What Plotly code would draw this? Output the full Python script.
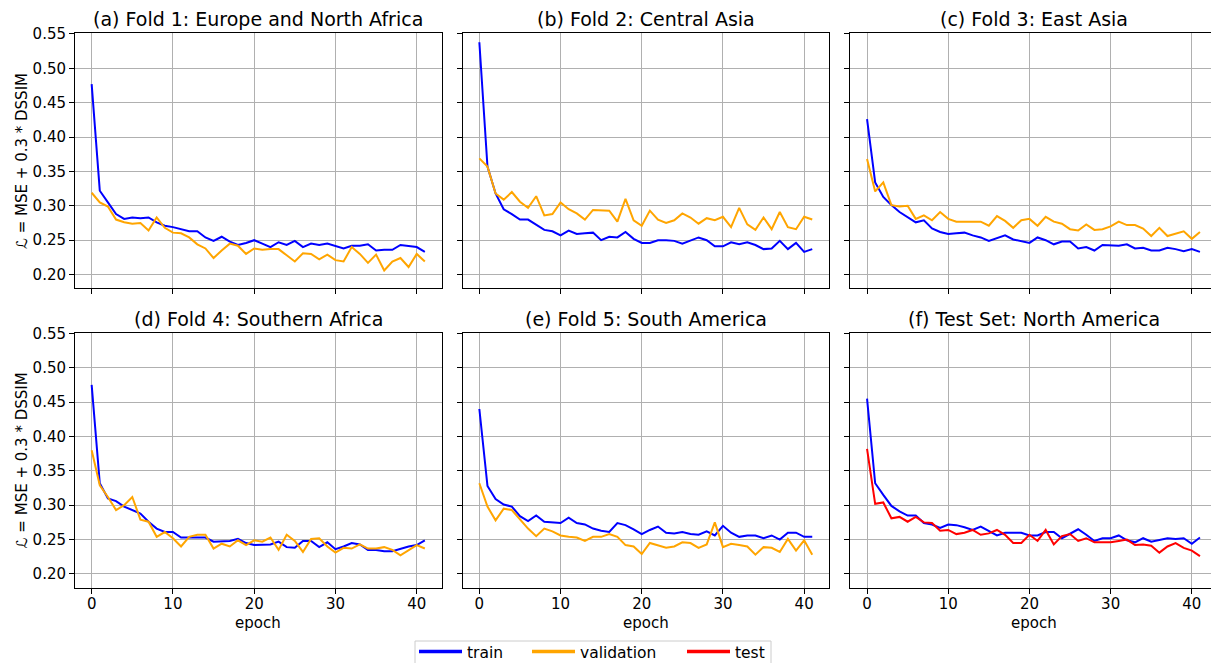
import plotly.graph_objects as go

epochs = list(range(42))

titles = [
    "(a) Fold 1: Europe and North Africa",
    "(b) Fold 2: Central Asia",
    "(c) Fold 3: East Asia",
    "(d) Fold 4: Southern Africa",
    "(e) Fold 5: South America",
    "(f) Test Set: North America",
]

train_a = [0.477, 0.322, 0.305, 0.288, 0.281, 0.283, 0.282, 0.283, 0.276, 0.271, 0.269, 0.266, 0.263, 0.263,
           0.254, 0.249, 0.255, 0.248, 0.243, 0.246, 0.250, 0.245, 0.240, 0.247, 0.243, 0.249, 0.240, 0.245,
           0.243, 0.245, 0.242, 0.238, 0.242, 0.242, 0.244, 0.235, 0.236, 0.236, 0.243, 0.241, 0.240, 0.233]
val_a = [0.319, 0.305, 0.299, 0.280, 0.276, 0.274, 0.275, 0.264, 0.283, 0.268, 0.261, 0.260, 0.254, 0.244,
         0.238, 0.224, 0.235, 0.245, 0.242, 0.230, 0.238, 0.236, 0.237, 0.237, 0.228, 0.219, 0.231, 0.230,
         0.222, 0.229, 0.221, 0.219, 0.240, 0.230, 0.217, 0.229, 0.206, 0.219, 0.224, 0.211, 0.230, 0.219]

train_b = [0.538, 0.357, 0.318, 0.295, 0.288, 0.280, 0.280, 0.272, 0.265, 0.263, 0.257, 0.264, 0.259, 0.260,
           0.261, 0.250, 0.255, 0.254, 0.262, 0.252, 0.246, 0.246, 0.250, 0.250, 0.249, 0.245, 0.250, 0.254,
           0.250, 0.241, 0.241, 0.247, 0.244, 0.247, 0.243, 0.237, 0.238, 0.249, 0.237, 0.246, 0.233, 0.237]
val_b = [0.369, 0.357, 0.318, 0.309, 0.320, 0.306, 0.297, 0.314, 0.286, 0.288, 0.305, 0.295, 0.289, 0.280,
         0.294, 0.294, 0.293, 0.277, 0.310, 0.279, 0.271, 0.293, 0.280, 0.275, 0.279, 0.289, 0.283, 0.274,
         0.282, 0.279, 0.284, 0.269, 0.297, 0.273, 0.265, 0.283, 0.266, 0.291, 0.269, 0.266, 0.284, 0.280]

train_c = [0.426, 0.334, 0.313, 0.301, 0.291, 0.284, 0.276, 0.279, 0.267, 0.262, 0.259, 0.260, 0.261, 0.257,
           0.254, 0.249, 0.253, 0.257, 0.251, 0.248, 0.246, 0.254, 0.250, 0.244, 0.248, 0.248, 0.238, 0.240,
           0.235, 0.243, 0.243, 0.242, 0.244, 0.238, 0.239, 0.235, 0.235, 0.239, 0.237, 0.234, 0.237, 0.233]
val_c = [0.368, 0.321, 0.334, 0.301, 0.299, 0.300, 0.281, 0.286, 0.279, 0.291, 0.281, 0.277, 0.277, 0.277,
         0.277, 0.271, 0.285, 0.278, 0.268, 0.279, 0.281, 0.271, 0.284, 0.277, 0.274, 0.266, 0.264, 0.273,
         0.265, 0.266, 0.270, 0.277, 0.272, 0.272, 0.267, 0.256, 0.268, 0.256, 0.260, 0.263, 0.252, 0.262]

train_d = [0.475, 0.332, 0.310, 0.306, 0.298, 0.293, 0.288, 0.276, 0.266, 0.261, 0.261, 0.253, 0.253, 0.254,
           0.253, 0.247, 0.248, 0.248, 0.251, 0.245, 0.242, 0.242, 0.243, 0.247, 0.239, 0.238, 0.248, 0.248,
           0.239, 0.246, 0.236, 0.240, 0.245, 0.243, 0.235, 0.235, 0.233, 0.233, 0.237, 0.240, 0.242, 0.249]
val_d = [0.380, 0.329, 0.312, 0.293, 0.300, 0.312, 0.279, 0.276, 0.254, 0.261, 0.252, 0.240, 0.254, 0.257,
         0.257, 0.237, 0.244, 0.240, 0.249, 0.242, 0.249, 0.247, 0.253, 0.235, 0.257, 0.248, 0.232, 0.251,
         0.252, 0.240, 0.231, 0.238, 0.237, 0.243, 0.237, 0.237, 0.239, 0.235, 0.227, 0.235, 0.242, 0.237]

train_e = [0.440, 0.328, 0.309, 0.301, 0.298, 0.284, 0.277, 0.285, 0.276, 0.275, 0.274, 0.282, 0.274, 0.272,
           0.266, 0.263, 0.261, 0.274, 0.271, 0.265, 0.258, 0.264, 0.269, 0.260, 0.259, 0.261, 0.258, 0.257,
           0.262, 0.256, 0.270, 0.260, 0.254, 0.256, 0.256, 0.252, 0.256, 0.250, 0.260, 0.260, 0.254, 0.254]
val_e = [0.332, 0.298, 0.278, 0.295, 0.293, 0.279, 0.266, 0.255, 0.266, 0.262, 0.256, 0.254, 0.253, 0.248,
         0.254, 0.254, 0.258, 0.254, 0.242, 0.240, 0.229, 0.245, 0.242, 0.238, 0.240, 0.246, 0.245, 0.238,
         0.243, 0.275, 0.239, 0.244, 0.242, 0.240, 0.228, 0.239, 0.238, 0.232, 0.251, 0.234, 0.249, 0.228]

train_f = [0.455, 0.332, 0.315, 0.299, 0.291, 0.285, 0.285, 0.274, 0.272, 0.267, 0.272, 0.271, 0.268, 0.264,
           0.269, 0.263, 0.256, 0.260, 0.260, 0.260, 0.256, 0.256, 0.261, 0.261, 0.252, 0.259, 0.265, 0.257,
           0.248, 0.252, 0.252, 0.256, 0.249, 0.246, 0.252, 0.247, 0.249, 0.252, 0.251, 0.252, 0.244, 0.253]
test_f = [0.382, 0.302, 0.304, 0.281, 0.283, 0.276, 0.283, 0.275, 0.274, 0.263, 0.264, 0.258, 0.260, 0.264,
          0.257, 0.259, 0.264, 0.257, 0.245, 0.245, 0.257, 0.248, 0.264, 0.243, 0.255, 0.258, 0.248, 0.252,
          0.246, 0.246, 0.246, 0.248, 0.250, 0.242, 0.243, 0.241, 0.231, 0.240, 0.245, 0.238, 0.234, 0.226]

y_ticks = [0.20, 0.25, 0.30, 0.35, 0.40, 0.45, 0.50, 0.55]
x_ticks = [0, 10, 20, 30, 40]

legend_names = ["train", "validation", "test"]

BLUE = "#0000ff"
ORANGE = "#ffa500"
RED = "#ff0000"
FONT = "DejaVu Sans"
W, H = 1211, 663

panels = [
    (train_a, val_a, ORANGE),
    (train_b, val_b, ORANGE),
    (train_c, val_c, ORANGE),
    (train_d, val_d, ORANGE),
    (train_e, val_e, ORANGE),
    (train_f, test_f, RED),
]

# pixel geometry of the axes boxes (left, right) and (top, bottom)
cols_px = [(75.0, 441.5), (462.7, 828.9), (850.4, 1216.6)]
rows_px = [(33.3, 288.3), (332.7, 587.7)]
x_full = [-2.05, 43.05]

fig = go.Figure()
layout = {}
annotations = []

for k, (tr, other, ocol) in enumerate(panels):
    r, c = divmod(k, 3)
    idx = "" if k == 0 else str(k + 1)
    xa, ya = "xaxis" + idx, "yaxis" + idx
    xl, xr = cols_px[c]
    yt, yb = rows_px[r]
    scale = (xr - xl) / (x_full[1] - x_full[0])
    xr_vis = min(xr, W)
    x_range = [x_full[0], x_full[0] + (xr_vis - xl) / scale]
    common = dict(
        showline=True, mirror=True, linecolor="black", linewidth=1,
        ticks="outside", ticklen=5, tickwidth=1, tickcolor="black",
        showgrid=True, gridcolor="#b0b0b0", gridwidth=1, zeroline=False,
        tickfont=dict(family=FONT, size=15, color="black"),
    )
    layout[xa] = dict(common, domain=[xl / W, xr_vis / W], range=x_range,
                      tickvals=x_ticks, showticklabels=(r == 1), ticklabelstandoff=-3,
                      anchor="y" + idx)
    layout[ya] = dict(common, domain=[1 - yb / H, 1 - yt / H], range=[0.180, 0.551],
                      tickvals=y_ticks, tickformat=".2f", showticklabels=(c == 0),
                      anchor="x" + idx)
    fig.add_trace(go.Scatter(x=epochs, y=tr, mode="lines", line=dict(color=BLUE, width=2),
                             xaxis="x" + idx, yaxis="y" + idx, showlegend=False))
    fig.add_trace(go.Scatter(x=epochs, y=other, mode="lines", line=dict(color=ocol, width=2),
                             xaxis="x" + idx, yaxis="y" + idx, showlegend=False))
    cx = (xl + xr) / 2
    annotations.append(dict(text=titles[k], x=cx / W, y=1 - (yt - 14) / H, xref="paper", yref="paper",
                            xanchor="center", yanchor="middle", showarrow=False,
                            font=dict(family=FONT, size=19, color="black")))
    if r == 1:
        annotations.append(dict(text="epoch", x=cx / W, y=1 - 623 / H, xref="paper", yref="paper",
                                xanchor="center", yanchor="middle", showarrow=False,
                                font=dict(family=FONT, size=15, color="black")))
    if c == 0:
        annotations.append(dict(text="ℒ = MSE + 0.3 * DSSIM", x=22 / W, y=1 - (yt + yb) / 2 / H,
                                xref="paper", yref="paper", xanchor="center", yanchor="middle",
                                textangle=-90, showarrow=False,
                                font=dict(family=FONT, size=15, color="black")))

# legend entries, one legend each so that spacing follows the reference
leg_cols = [BLUE, ORANGE, RED]
leg_x_px = [414, 527, 682]
leg_layout = {}
for j, (name, col) in enumerate(zip(legend_names, leg_cols)):
    lid = "legend" if j == 0 else "legend" + str(j + 1)
    fig.add_trace(go.Scatter(x=[None], y=[None], mode="lines", name=name,
                             line=dict(color=col, width=3.5), showlegend=True, legend=lid))
    leg_layout[lid] = dict(orientation="h", x=leg_x_px[j] / W, xanchor="left",
                           y=1 - 635 / H, yanchor="top", borderwidth=0, bgcolor="rgba(0,0,0,0)",
                           font=dict(family=FONT, size=15.5, color="black"), itemwidth=43)

fig.update_layout(
    width=W, height=H,
    margin=dict(l=0, r=0, t=0, b=0, autoexpand=False),
    paper_bgcolor="white", plot_bgcolor="white",
    annotations=annotations,
    showlegend=True,
    shapes=[dict(type="rect", xref="paper", yref="paper", x0=415 / W, x1=771 / W,
                 y0=1 - 641 / H, y1=-0.02, line=dict(color="#cccccc", width=1),
                 fillcolor="white", layer="below")],
    **leg_layout,
    **layout,
)

fig.write_html("out.html")
